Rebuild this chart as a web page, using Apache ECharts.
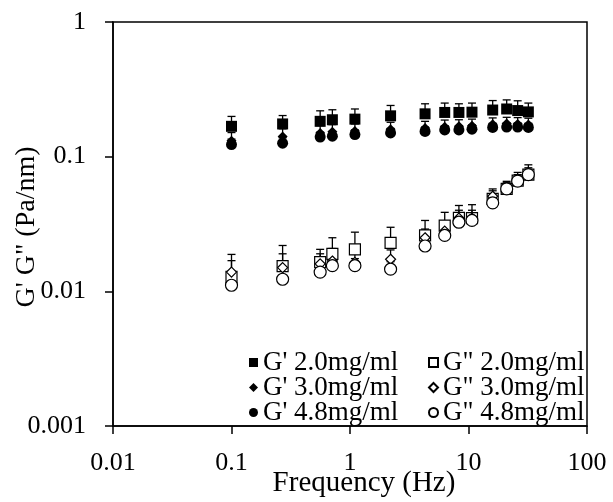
<!DOCTYPE html>
<html>
<head>
<meta charset="utf-8">
<script src="https://cdn.jsdelivr.net/npm/echarts@6/dist/echarts.min.js"></script>
<style>html,body{margin:0;padding:0;background:#fff}#c{width:613px;height:502px}</style>
</head>
<body>
<div id="c"></div>
<script>
// ---- data ----
const freq = [0.1, 0.27, 0.56, 0.71, 1.1, 2.2, 4.3, 6.3, 8.3, 10.7, 16, 21, 26, 32];
const gp20 = [0.168, 0.175, 0.183, 0.188, 0.19, 0.201, 0.208, 0.213, 0.213, 0.214, 0.222, 0.226, 0.22, 0.215];
const gp20Err = [0.031, 0.027, 0.036, 0.035, 0.036, 0.039, 0.039, 0.037, 0.034, 0.036, 0.039, 0.038, 0.04, 0.035];
const gp30 = [0.131, 0.141, 0.15, 0.153, 0.155, 0.16, 0.163, 0.167, 0.168, 0.17, 0.174, 0.176, 0.175, 0.173];
const gp30Err = [0.02, 0.02, 0.02, 0.02, 0.02, 0.02, 0.02, 0.02, 0.02, 0.02, 0.02, 0.02, 0.02, 0.02];
const gp48 = [0.123, 0.126, 0.14, 0.142, 0.146, 0.15, 0.154, 0.158, 0.158, 0.16, 0.165, 0.166, 0.166, 0.165];
const gp48Err = [0.012, 0.012, 0.012, 0.012, 0.012, 0.012, 0.012, 0.012, 0.012, 0.012, 0.012, 0.012, 0.012, 0.012];
const gpp20 = [0.0128, 0.0154, 0.0165, 0.019, 0.0205, 0.0229, 0.026, 0.0308, 0.0351, 0.035, 0.0486, 0.0576, 0.0664, 0.0736];
const gpp20Err = [0.006, 0.0065, 0.004, 0.006, 0.007, 0.007, 0.0076, 0.0078, 0.0083, 0.009, 0.009, 0.008, 0.01, 0.0134];
const gpp30 = [0.0139, 0.015, 0.016, 0.0168, 0.0164, 0.0173, 0.025, 0.028, 0.035, 0.035, 0.0508, 0.059, 0.0675, 0.0757];
const gpp30Err = [0.003, 0.004, 0.003, 0.004, 0.003, 0.003, 0.004, 0.005, 0.005, 0.005, 0.005, 0.005, 0.006, 0.007];
const gpp48 = [0.0111, 0.0123, 0.0139, 0.0155, 0.0155, 0.0146, 0.0217, 0.026, 0.0326, 0.0336, 0.0454, 0.0576, 0.0658, 0.0736];
const gpp48Err = [0.002, 0.003, 0.003, 0.003, 0.002, 0.002, 0.003, 0.004, 0.004, 0.004, 0.004, 0.004, 0.005, 0.006];
const xTickLabels = ['0.01', '0.1', '1', '10', '100'];
const yTickLabels = ['0.001', '0.01', '0.1', '1'];
const seriesNames = ["G' 2.0mg/ml", 'G" 2.0mg/ml', "G' 3.0mg/ml", 'G" 3.0mg/ml', "G' 4.8mg/ml", 'G" 4.8mg/ml'];
const xTitle = 'Frequency (Hz)';
const yTitle = 'G\' G" (Pa/nm)';

// ---- chart ----
const FONT = '"Liberation Serif", "Times New Roman", serif';
const chart = echarts.init(document.getElementById('c'), null, {renderer: 'canvas'});

function errSeries(vals, errs) {
  return {
    type: 'custom',
    silent: true,
    z: 1,
    encode: {x: 0, y: [1, 2]},
    data: freq.map((f, i) => [f, vals[i], vals[i] + errs[i]]),
    renderItem: function (params, api) {
      const p0 = api.coord([api.value(0), api.value(1)]);
      const p1 = api.coord([api.value(0), api.value(2)]);
      const st = {stroke: '#000', lineWidth: 1.3};
      return {
        type: 'group',
        children: [
          {type: 'line', shape: {x1: p0[0], y1: p0[1], x2: p1[0], y2: p1[1]}, style: st},
          {type: 'line', shape: {x1: p1[0] - 4, y1: p1[1], x2: p1[0] + 4, y2: p1[1]}, style: st}
        ]
      };
    }
  };
}

function sc(name, vals, symbol, size, filled) {
  return {
    name: name,
    type: 'scatter',
    z: 3,
    symbol: symbol,
    symbolSize: size,
    data: freq.map((f, i) => [f, vals[i]]),
    itemStyle: filled ? {color: '#000', opacity: 1} : {color: '#fff', borderColor: '#000', borderWidth: 1.2, opacity: 1}
  };
}

function labelFrom(arr, offset) {
  return function (v) {
    const k = Math.round(Math.log10(v)) + offset;
    return arr[k] !== undefined ? arr[k] : '';
  };
}

function leg(name, left, top) {
  return {
    orient: 'horizontal',
    left: left,
    top: top,
    data: [name],
    itemWidth: 9,
    itemHeight: 9,
    itemTextGap: 10,
    padding: 0,
    selectedMode: false,
    textStyle: {fontFamily: FONT, fontSize: 27, color: '#000'}
  };
}

chart.setOption({
  animation: false,
  backgroundColor: '#fff',
  grid: {left: 113, right: 26, top: 22, bottom: 76, show: true, borderColor: '#000', borderWidth: 1.5, containLabel: false},
  xAxis: {
    type: 'log', logBase: 10, min: 0.01, max: 100,
    splitLine: {show: false},
    minorTick: {show: false},
    axisLine: {lineStyle: {color: '#000', width: 1.5}},
    axisTick: {inside: false, length: 8, lineStyle: {color: '#000', width: 1.5}},
    axisLabel: {fontFamily: FONT, fontSize: 26, color: '#000', margin: 24, formatter: labelFrom(xTickLabels, 2)}
  },
  yAxis: {
    type: 'log', logBase: 10, min: 0.001, max: 1,
    splitLine: {show: false},
    axisLine: {lineStyle: {color: '#000', width: 1.5}},
    axisTick: {inside: false, length: 8, lineStyle: {color: '#000', width: 1.5}},
    axisLabel: {fontFamily: FONT, fontSize: 26, color: '#000', margin: 27, formatter: labelFrom(yTickLabels, 3)}
  },
  legend: [
    leg(seriesNames[0], 249, 349),
    leg(seriesNames[1], 428, 349),
    leg(seriesNames[2], 249, 374),
    leg(seriesNames[3], 428, 374),
    leg(seriesNames[4], 249, 399),
    leg(seriesNames[5], 428, 399)
  ],
  graphic: [
    {type: 'text', x: 364, y: 483, style: {text: xTitle, fontFamily: FONT, fontSize: 29, fill: '#000', textAlign: 'center', textVerticalAlign: 'middle'}},
    {type: 'text', x: 27, y: 227, rotation: Math.PI / 2, style: {text: yTitle, fontFamily: FONT, fontSize: 28, fill: '#000', textAlign: 'center', textVerticalAlign: 'middle'}}
  ],
  series: [
    errSeries(gpp48, gpp48Err),
    errSeries(gpp30, gpp30Err),
    errSeries(gpp20, gpp20Err),
    errSeries(gp48, gp48Err),
    errSeries(gp30, gp30Err),
    errSeries(gp20, gp20Err),
    sc(seriesNames[0], gp20, 'rect', 11, true),
    sc(seriesNames[1], gpp20, 'rect', 11, false),
    sc(seriesNames[2], gp30, 'diamond', 10, true),
    sc(seriesNames[3], gpp30, 'diamond', 10, false),
    sc(seriesNames[4], gp48, 'circle', 11, true),
    sc(seriesNames[5], gpp48, 'circle', 12, false)
  ]
});
</script>
</body>
</html>
